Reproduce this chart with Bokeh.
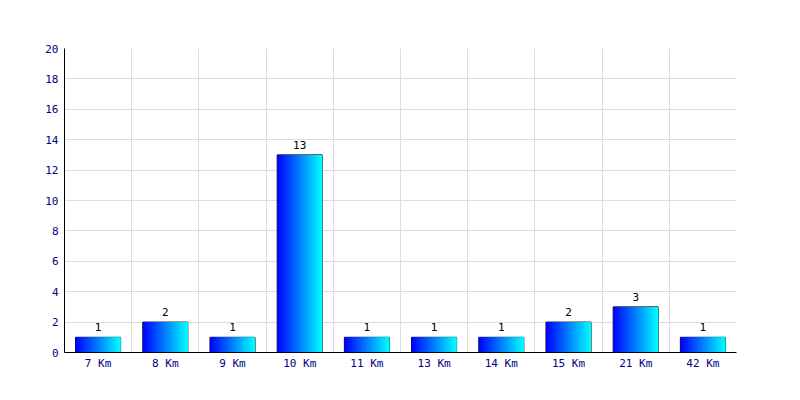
from bokeh.plotting import figure
from bokeh.models import FixedTicker, Range1d, Grid, ColumnDataSource, LabelSet
from bokeh.core.properties import value
from bokeh.embed import file_html
from bokeh.resources import INLINE

categories = ["7 Km", "8 Km", "9 Km", "10 Km", "11 Km", "13 Km", "14 Km", "15 Km", "21 Km", "42 Km"]
counts = [1, 2, 1, 13, 1, 1, 1, 2, 3, 1]
y_ticks = [0, 2, 4, 6, 8, 10, 12, 14, 16, 18, 20]

FONT = "DejaVu Sans Mono"
NAVY = "#000080"
BAR_W = 0.67
N_STRIPS = 30

p = figure(width=792, height=392, output_backend="svg", toolbar_location=None,
           x_range=Range1d(0, len(categories)), y_range=Range1d(0, 20),
           min_border_left=64, min_border_right=56, min_border_top=48, min_border_bottom=40)
p.outline_line_color = None
p.background_fill_color = "white"
p.border_fill_color = "white"

# gradient bars as vertical strips
lefts, rights, tops, colors = [], [], [], []
for i, c in enumerate(counts):
    x0 = i + 0.5 - BAR_W / 2
    sw = BAR_W / N_STRIPS
    for k in range(N_STRIPS):
        t = (k + 0.5) / N_STRIPS
        g = int(round(255 * t))
        lefts.append(x0 + k * sw)
        rights.append(min(x0 + (k + 2) * sw, x0 + BAR_W))
        tops.append(c)
        colors.append("#%02x%02x%02x" % (0, g, 255))
p.quad(left=lefts, right=rights, top=tops, bottom=0, fill_color=colors, line_color=None)

centers = [i + 0.5 for i in range(len(categories))]
src = ColumnDataSource(dict(x=centers, top=counts, lbl=[str(c) for c in counts]))
p.vbar(x="x", top="top", width=BAR_W, bottom=0, source=src, fill_color=None,
       line_color="black", line_width=1)

labels = LabelSet(x="x", y="top", text="lbl", source=src, text_align="center",
                  text_baseline="bottom", y_offset=6, text_font=value(FONT),
                  text_font_size=value("11px"), text_color="black")
p.add_layout(labels)

# axes
p.xaxis.ticker = FixedTicker(ticks=centers)
p.xaxis.major_label_overrides = {c: lab for c, lab in zip(centers, categories)}
p.yaxis.ticker = FixedTicker(ticks=y_ticks)
for ax in (p.xaxis[0], p.yaxis[0]):
    ax.major_tick_in = 0
    ax.major_tick_out = 0
    ax.minor_tick_in = 0
    ax.minor_tick_out = 0
    ax.axis_line_color = "black"
    ax.axis_line_width = 1
    ax.major_label_text_font = FONT
    ax.major_label_text_font_size = "11px"
    ax.major_label_text_color = NAVY
p.xaxis.major_label_standoff = 4
p.yaxis.major_label_standoff = 6

# grids
p.xgrid.grid_line_color = None
p.ygrid.grid_line_color = "#dcdcdc"
p.ygrid.ticker = FixedTicker(ticks=y_ticks)
vgrid = Grid(dimension=0, ticker=FixedTicker(ticks=list(range(len(categories) + 1))),
             grid_line_color="#dcdcdc")
p.add_layout(vgrid)
p.renderers.insert(0, p.renderers.pop())

open("out.html", "w").write(file_html(p, INLINE))
